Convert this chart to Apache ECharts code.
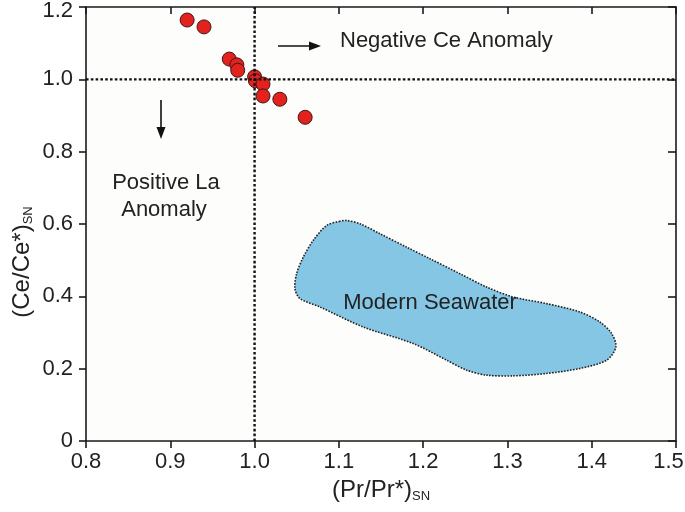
<!DOCTYPE html>
<html>
<head>
<meta charset="utf-8">
<script src="https://cdn.jsdelivr.net/npm/echarts@6/dist/echarts.min.js"></script>
<style>
html,body{margin:0;padding:0;background:#fff;}
#chart{width:685px;height:512px;}
</style>
</head>
<body>
<div id="chart"></div>
<script>
// Sample points: (Pr/Pr*)SN, (Ce/Ce*)SN
const prValues = [0.920, 0.940, 0.970, 0.979, 0.980, 1.000, 1.001, 1.010, 1.010, 1.030, 1.060];
const ceValues = [1.164, 1.145, 1.056, 1.040, 1.025, 1.007, 0.996, 0.987, 0.954, 0.945, 0.895];

// Modern seawater field outline
const seawaterX = [1.1013,1.0855,1.0696,1.0578,1.0499,1.0479,1.0539,1.0776,1.1289,1.1883,1.2279,1.2516,1.2753,1.3069,1.3465,1.3860,1.4177,1.4287,1.4236,1.4097,1.3860,1.3465,1.3069,1.2753,1.2437,1.2081,1.1804,1.1488,1.1251,1.1093];
const seawaterY = [0.6077,0.5959,0.5545,0.5084,0.4626,0.4212,0.3937,0.3705,0.3153,0.2695,0.2234,0.1959,0.1821,0.1801,0.1868,0.2006,0.2234,0.2601,0.2971,0.3291,0.3567,0.3799,0.3981,0.4257,0.4626,0.5040,0.5360,0.5730,0.6006,0.6097];

// Reference lines (Ce/Ce* = 1, Pr/Pr* = 1)
const refPr = 1.0;
const refCe = 1.0;

// Axis ranges / ticks
const xMin = 0.8, xMax = 1.5, xStep = 0.1;
const yMin = 0, yMax = 1.2, yStep = 0.2;

const FONT = '"Liberation Sans", Arial, sans-serif';
const chart = echarts.init(document.getElementById('chart'));

const axisLineStyle = {color: '#1a1a1a', width: 1.6};
const tickText = {fontSize: 22, fontFamily: FONT, color: '#222'};

const option = {
  backgroundColor: '#ffffff',
  animation: false,
  grid: {left: 86, right: 9, top: 7, bottom: 71, show: true, backgroundColor: '#fdfdfc', borderWidth: 0,
         containLabel: false, outerBoundsMode: 'none'},
  xAxis: [
    {type: 'value', min: xMin, max: xMax, interval: xStep, position: 'bottom',
     axisLine: {show: true, onZero: false, lineStyle: axisLineStyle},
     axisTick: {show: true, inside: false, length: 7, lineStyle: axisLineStyle},
     axisLabel: {show: true, margin: 10, fontSize: 22, color: '#222', fontFamily: FONT,
       hideOverlap: false, showMinLabel: true, showMaxLabel: true,
       formatter: v => (Math.abs(v - xMax) < 1e-9 ? '{end|' + v.toFixed(1) + '}' : v.toFixed(1)),
       rich: {end: Object.assign({padding: [0, 15, 0, 0]}, tickText)}},
     splitLine: {show: false}},
    {type: 'value', min: xMin, max: xMax, interval: xStep, position: 'top',
     axisLine: {show: true, onZero: false, lineStyle: axisLineStyle},
     axisTick: {show: true, inside: true, length: 7, lineStyle: axisLineStyle},
     axisLabel: {show: false}, splitLine: {show: false}}
  ],
  yAxis: [
    {type: 'value', min: yMin, max: yMax, interval: yStep, position: 'left',
     axisLine: {show: true, onZero: false, lineStyle: axisLineStyle},
     axisTick: {show: true, inside: false, length: 7, lineStyle: axisLineStyle},
     axisLabel: {show: true, margin: 13, fontSize: 22, color: '#222', fontFamily: FONT,
       hideOverlap: false, showMinLabel: true, showMaxLabel: true,
       formatter: v => (Math.abs(v) < 1e-9 ? '0' :
         (Math.abs(v - yMax) < 1e-9 ? '{top|' + v.toFixed(1) + '}' : v.toFixed(1))),
       rich: {top: Object.assign({padding: [8, 0, 0, 0]}, tickText)}},
     splitLine: {show: false}},
    {type: 'value', min: yMin, max: yMax, interval: yStep, position: 'right',
     axisLine: {show: true, onZero: false, lineStyle: axisLineStyle},
     axisTick: {show: true, inside: true, length: 8, lineStyle: axisLineStyle},
     axisLabel: {show: false}, splitLine: {show: false}}
  ],
  series: [
    {
      type: 'custom',
      name: 'Modern Seawater',
      xAxisIndex: 0, yAxisIndex: 0, z: 2,
      data: [[seawaterX[0], seawaterY[0]]],
      renderItem: function (params, api) {
        const pts = seawaterX.map((x, i) => api.coord([x, seawaterY[i]]));
        return {
          type: 'polygon',
          shape: {points: pts, smooth: 0.3},
          style: {fill: '#86c6e5', stroke: '#222', lineWidth: 1.6, lineDash: [1.6, 1.4]}
        };
      },
      silent: true
    },
    {
      type: 'scatter',
      name: 'Samples',
      xAxisIndex: 0, yAxisIndex: 0, z: 3,
      symbol: 'circle', symbolSize: 14,
      itemStyle: {color: '#e3221d', borderColor: '#3a1a18', borderWidth: 1, opacity: 1},
      data: prValues.map((x, i) => [x, ceValues[i]])
    },
    {
      type: 'line', xAxisIndex: 0, yAxisIndex: 0, z: 4,
      symbol: 'none', silent: true,
      lineStyle: {color: '#111', width: 2.4, type: [2.6, 2.2]},
      data: [[xMin, refCe], [xMax, refCe]]
    },
    {
      type: 'line', xAxisIndex: 0, yAxisIndex: 0, z: 4,
      symbol: 'none', silent: true,
      lineStyle: {color: '#111', width: 2.4, type: [2.6, 2.2]},
      data: [[refPr, yMin], [refPr, yMax]]
    }
  ],
  graphic: [
    // right arrow
    {type: 'line', shape: {x1: 278, y1: 46, x2: 312, y2: 46}, style: {stroke: '#111', lineWidth: 1.6}, z: 10},
    {type: 'polygon', shape: {points: [[321, 46], [309, 41.5], [309, 50.5]]}, style: {fill: '#111'}, z: 10},
    {type: 'text', left: 340, top: 30, style: {text: 'Negative Ce Anomaly', font: '22px ' + FONT, fill: '#222'}, z: 10},
    // down arrow
    {type: 'line', shape: {x1: 161, y1: 100, x2: 161, y2: 130}, style: {stroke: '#111', lineWidth: 1.6}, z: 10},
    {type: 'polygon', shape: {points: [[161, 139], [156.5, 127], [165.5, 127]]}, style: {fill: '#111'}, z: 10},
    {type: 'text', x: 166, y: 183, style: {text: 'Positive La', font: '22px ' + FONT, fill: '#222', align: 'center', verticalAlign: 'middle'}, z: 10},
    {type: 'text', x: 164, y: 210, style: {text: 'Anomaly', font: '22px ' + FONT, fill: '#222', align: 'center', verticalAlign: 'middle'}, z: 10},
    {type: 'text', x: 430, y: 303, style: {text: 'Modern Seawater', font: '22px ' + FONT, fill: '#222', align: 'center', verticalAlign: 'middle'}, z: 10},
    // axis titles
    {type: 'text', x: 381, y: 490, z: 10,
     style: {text: '{a|(Pr/Pr*)}{b|SN}', align: 'center', verticalAlign: 'middle',
       rich: {a: {fontSize: 24, fontFamily: FONT, fill: '#222', color: '#222'},
              b: {fontSize: 13, fontFamily: FONT, fill: '#222', color: '#222', padding: [12, 0, 0, 0]}}}},
    {type: 'text', x: 22, y: 262, rotation: Math.PI / 2, z: 10,
     style: {text: '{a|(Ce/Ce*)}{b|SN}', align: 'center', verticalAlign: 'middle',
       rich: {a: {fontSize: 24, fontFamily: FONT, fill: '#222', color: '#222'},
              b: {fontSize: 13, fontFamily: FONT, fill: '#222', color: '#222', padding: [12, 0, 0, 0]}}}}
  ]
};
chart.setOption(option);
</script>
</body>
</html>
